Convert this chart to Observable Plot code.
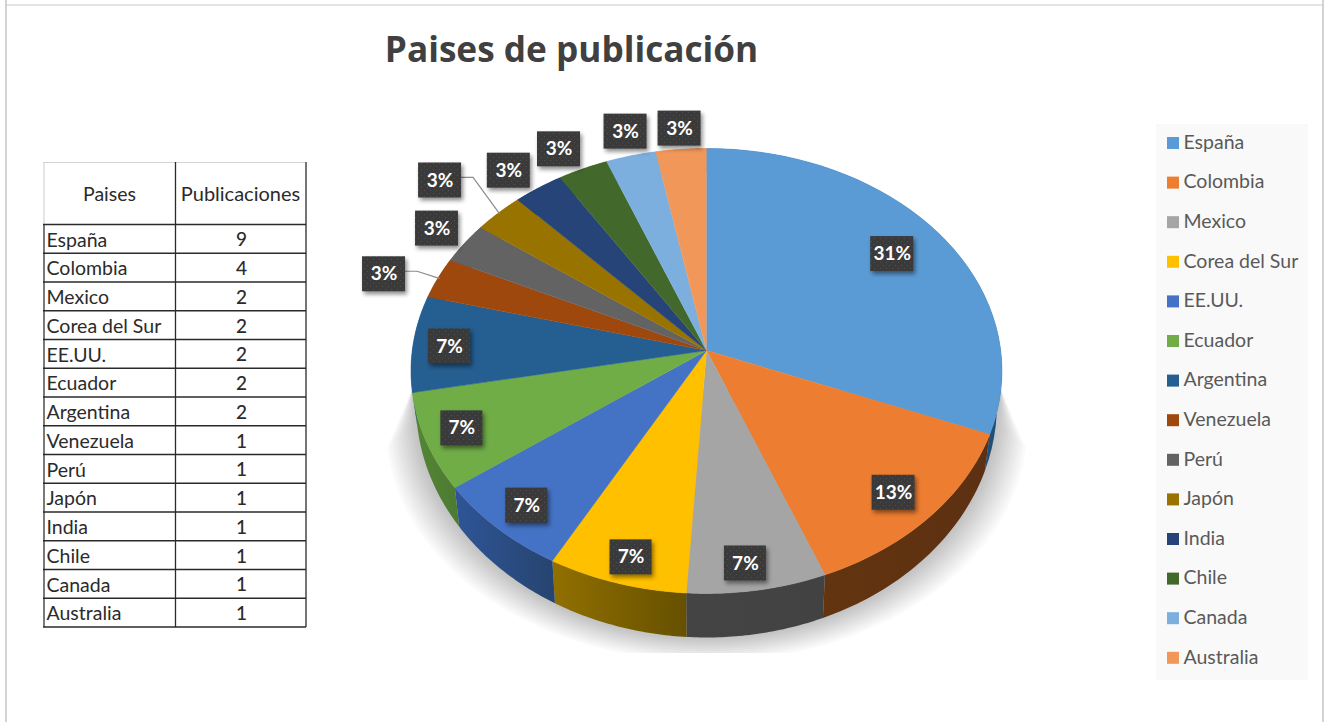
<!DOCTYPE html>
<html lang="es">
<head>
<meta charset="utf-8">
<title>Paises de publicación</title>
<style>html,body{margin:0;padding:0;background:#fff}svg{display:block}</style>
<script src="https://cdn.jsdelivr.net/npm/d3@7"></script>
<script src="https://cdn.jsdelivr.net/npm/@observablehq/plot@0.6"></script>
</head>
<body>
<div id="chart"></div>
<script>
// ---- data ----
const paises = ["España","Colombia","Mexico","Corea del Sur","EE.UU.","Ecuador","Argentina","Venezuela","Perú","Japón","India","Chile","Canada","Australia"];
const publicaciones = [9,4,2,2,2,2,2,1,1,1,1,1,1,1];
const porcentajes = [31,13,7,7,7,7,7,3,3,3,3,3,3,3];
const colores = ["#5b9bd5","#ed7d31","#a5a5a5","#ffc000","#4472c4","#70ad47","#255e91","#9e480e","#636363","#997300","#264478","#43682b","#7cafdd","#f1975a"];
const ladoInicio = ["#2a5d8c","#63340f","#444444","#917000","#2f5597","#558636","#255e91","#9e480e","#636363","#997300","#264478","#43682b","#7cafdd","#f1975a"];
const ladoFin = ["#1f4e79","#5c3012","#424242","#665000","#26446f","#4d7a32","#255e91","#9e480e","#636363","#997300","#264478","#43682b","#7cafdd","#f1975a"];
// manual label layout: radial distance and angular nudge (degrees) of each data label
const etiquetaRadio = [0.80,0.855,0.895,0.895,0.875,0.875,0.875,1.187,1.127,1.28,1.142,1.136,1.133,1.113];
const etiquetaGiro = [-0.5,0.4,1.2,-0.9,-0.4,0.4,-0.6,-2.3,0.5,-1,-1.7,-1.8,0.7,0.2];
const conGuia = ["Venezuela","Japón"];

// ---- pie projection (tilted disc in perspective) ----
const CX = 706, CY = 350, R = 294.2, S = 220.6, K = 0.092;
function cara(deg, r = 1) {
  const a = deg * Math.PI / 180, u = r * Math.sin(a), v = -r * Math.cos(a), w = 1 - K * v;
  return [CX + R * u / w, CY + S * v / w];
}
function borde(deg) {
  const [x, y] = cara(deg);
  return [CX + 0.983 * (x - CX), CY + 1.047 * (y - CY) + 32.6];
}
const acumulado = d3.cumsum(porcentajes);
const inicio = i => (i ? acumulado[i - 1] : 0) * 3.6;
const fin = i => acumulado[i] * 3.6;
const muestras = (a, b) => d3.range(0, 41).map(t => a + (b - a) * t / 40);

const caras = paises.flatMap((pais, i) => [
  [CX, CY], ...muestras(inicio(i), fin(i)).map(d => cara(d))
].map(([x, y]) => ({pais, x, y})));

const ladoMarks = paises.map((pais, i) => {
  const arco = muestras(inicio(i), fin(i));
  const pts = [...arco.map(d => cara(d)), ...arco.slice().reverse().map(d => borde(d))];
  return Plot.line(pts, {x: d => d[0], y: d => d[1], fill: `url(#lado${i})`, stroke: "none"});
});

// soft shadow: nested translucent outlines widening away from the pie
const anillos = d3.range(0, 13).flatMap(n => {
  const e = n * 2.5;
  const arco = muestras(100, 260).map(d => {
    const [x, y] = borde(d);
    return [CX + (x - CX) * (1 + e / 290), y + e * 0.8];
  });
  return [cara(100), ...arco, cara(260)].map(([x, y]) => ({n, x, y}));
});

const etiquetas = paises.map((pais, i) => {
  const [x, y] = cara((inicio(i) + fin(i)) / 2 + etiquetaGiro[i], etiquetaRadio[i]);
  return {pais, x, y, texto: porcentajes[i] + "%", w: porcentajes[i] === 7 ? 42 : 43};
});

const guias = etiquetas.filter(d => conGuia.includes(d.pais)).flatMap(d => {
  const i = paises.indexOf(d.pais);
  const [ex, ey] = cara((inicio(i) + fin(i)) / 2, 0.995);
  return [[d.x + 21, d.y - 3], [d.x + 33, d.y - 3], [ex, ey]].map(([x, y]) => ({pais: d.pais, x, y}));
});

// ---- table and legend layout ----
const filaAlto = 28.75, tablaY = 224;
const filasTabla = d3.range(paises.length + 1).map(i => tablaY + i * filaAlto);
const tabla = paises.map((pais, i) => ({pais, n: publicaciones[i], y: tablaY + (i + 0.5) * filaAlto + 1.5}));
const leyenda = paises.map((pais, i) => ({pais, y: 142 + i * 39.6}));

const LATO = "Lato, 'Open Sans', sans-serif";

const svg = Plot.plot({
  width: 1328, height: 722, margin: 0,
  x: {domain: [0, 1328], range: [0, 1328], axis: null},
  y: {domain: [0, 722], range: [0, 722], axis: null},
  color: {domain: paises, range: colores},
  style: {background: "#fff", overflow: "hidden"},
  marks: [
    // outer frame
    Plot.ruleX([5.5, 1322.5], {stroke: "#c9c9c9", strokeWidth: 1.6}),
    Plot.ruleY([4.5], {x1: 5, x2: 1323, stroke: "#c9c9c9", strokeWidth: 1.2}),
    // title
    Plot.text(["Paises de publicación"], {x: () => 571, y: () => 50, text: d => d, fontFamily: "'Open Sans', sans-serif", fontWeight: 700, fontSize: 35.2, fill: "#404040"}),
    // table
    Plot.ruleY([162], {x1: 43, x2: 305, stroke: "#d4d4d4", strokeWidth: 1.2}),
    Plot.ruleX([43.5], {y1: 162, y2: 224, stroke: "#d4d4d4", strokeWidth: 1.2}),
    Plot.ruleX([43.5], {y1: 224, y2: 627, stroke: "#222", strokeWidth: 1.2}),
    Plot.ruleX([175, 305.5], {y1: 162, y2: 627, stroke: "#2a2a2a", strokeWidth: 1.3}),
    Plot.ruleY(filasTabla, {x1: 43, x2: 306, stroke: "#2a2a2a", strokeWidth: 1.5}),
    Plot.text(["Paises"], {x: () => 109, y: () => 194, text: d => d, fontFamily: LATO, fontSize: 19.5, fill: "#2b2b2b"}),
    Plot.text(["Publicaciones"], {x: () => 240, y: () => 194, text: d => d, fontFamily: LATO, fontSize: 20, fill: "#2b2b2b"}),
    Plot.text(tabla, {x: () => 46, y: "y", text: "pais", textAnchor: "start", fontFamily: LATO, fontSize: 19.5, fill: "#2b2b2b"}),
    Plot.text(tabla, {x: () => 241, y: "y", text: "n", fontFamily: LATO, fontSize: 19, fontWeight: 500, fill: "#2b2b2b"}),
    // shadow under the pie
    Plot.line(anillos, {x: "x", y: "y", z: "n", fill: "#000", fillOpacity: 0.02, stroke: "none"}),
    Plot.rect([0], {x1: () => 360, x2: () => 1060, y1: () => 653, y2: () => 700, fill: "#fff"}),
    // pie sides and top
    ...ladoMarks,
    Plot.line(caras, {x: "x", y: "y", fill: "pais", stroke: "pais", strokeWidth: 0.6}),
    // leader lines
    Plot.line(guias, {x: "x", y: "y", z: "pais", stroke: "#8c8c8c", strokeWidth: 1.2}),
    // data labels
    Plot.rect(etiquetas, {x1: d => d.x - d.w / 2, x2: d => d.x + d.w / 2, y1: d => d.y - 17.5, y2: d => d.y + 17.5, fill: "url(#puntos)", ariaLabel: "caja"}),
    Plot.text(etiquetas, {x: "x", y: "y", text: "texto", fontFamily: LATO, fontSize: 19, fontWeight: 700, fill: "#fff"}),
    // legend
    Plot.rect([0], {x1: () => 1156, x2: () => 1308, y1: () => 124, y2: () => 680, fill: "#f9f9f9"}),
    Plot.rect(leyenda, {x1: () => 1167, x2: () => 1179, y1: d => d.y - 5, y2: d => d.y + 7, fill: "pais"}),
    Plot.text(leyenda, {x: () => 1183, y: "y", text: "pais", textAnchor: "start", fontFamily: LATO, fontSize: 19.5, fill: "#595959"})
  ]
});

// gradients and texture that the marks refer to
const sel = d3.select(svg);
const defs = sel.insert("defs", ":first-child");
paises.forEach((p, i) => {
  const g = defs.append("linearGradient").attr("id", `lado${i}`);
  g.append("stop").attr("offset", 0).attr("stop-color", ladoInicio[i]);
  g.append("stop").attr("offset", 1).attr("stop-color", ladoFin[i]);
});
const pat = defs.append("pattern").attr("id", "puntos").attr("width", 6).attr("height", 6).attr("patternUnits", "userSpaceOnUse");
pat.append("rect").attr("width", 6).attr("height", 6).attr("fill", "#3a3a3a");
pat.append("rect").attr("x", 1).attr("y", 1).attr("width", 1).attr("height", 1).attr("fill", "#505050");
pat.append("rect").attr("x", 4).attr("y", 4).attr("width", 1).attr("height", 1).attr("fill", "#505050");

sel.selectAll("rect").filter(function() {
  const f = this.getAttribute("fill") || (this.parentNode && this.parentNode.getAttribute("fill"));
  return f === "url(#puntos)";
}).style("filter", "drop-shadow(2px 3px 2px rgba(0,0,0,.45))");

document.getElementById("chart").append(svg);
</script>
</body>
</html>
